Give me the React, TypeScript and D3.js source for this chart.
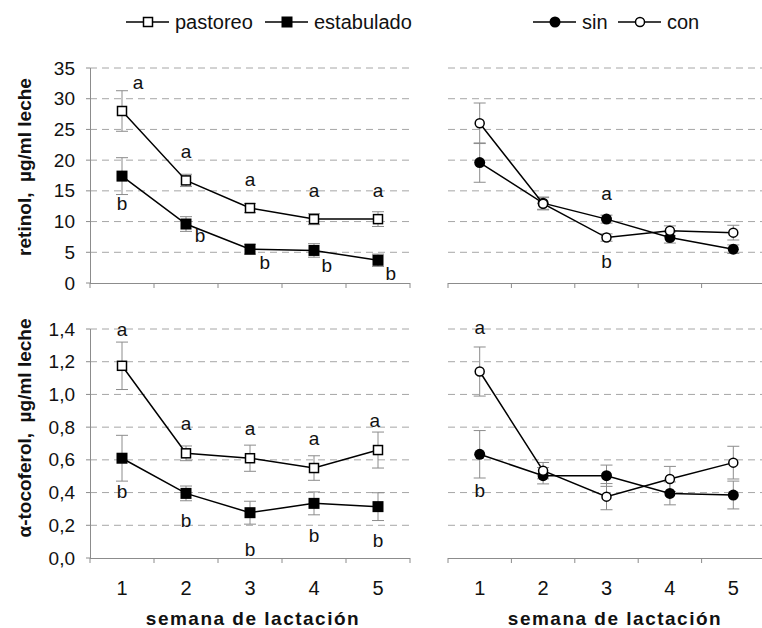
import React from "react";
import * as d3 from "d3";

const weeks = [1, 2, 3, 4, 5];

const retinolPastoreo = [28.0, 16.7, 12.2, 10.4, 10.4];
const retinolPastoreoErr = [3.3, 1.0, 0.75, 0.9, 1.2];
const retinolEstabulado = [17.4, 9.6, 5.5, 5.3, 3.7];
const retinolEstabuladoErr = [3.0, 1.2, 0.8, 1.1, 1.0];
const retinolSin = [19.6, 13.0, 10.4, 7.4, 5.5];
const retinolSinErr = [3.2, 1.0, 0.65, 0.9, 0.7];
const retinolCon = [26.0, 12.9, 7.4, 8.5, 8.2];
const retinolConErr = [3.3, 1.0, 0.6, 0.8, 1.2];

const tocoPastoreo = [1.175, 0.64, 0.61, 0.55, 0.66];
const tocoPastoreoErr = [0.145, 0.045, 0.08, 0.075, 0.11];
const tocoEstabulado = [0.61, 0.395, 0.277, 0.334, 0.314];
const tocoEstabuladoErr = [0.14, 0.045, 0.07, 0.07, 0.085];
const tocoSin = [0.634, 0.503, 0.503, 0.395, 0.385];
const tocoSinErr = [0.145, 0.05, 0.065, 0.07, 0.085];
const tocoCon = [1.14, 0.534, 0.375, 0.483, 0.583];
const tocoConErr = [0.15, 0.05, 0.08, 0.077, 0.1];

const retinolTicks = [0, 5, 10, 15, 20, 25, 30, 35];
const tocoTicks = [0, 0.2, 0.4, 0.6, 0.8, 1.0, 1.2, 1.4];

// annotation letters: [text, week position, value]
const retinolLeftLetters: [string, number, number][] = [
  ["a", 1.25, 32.6], ["a", 2, 21.4], ["a", 3, 16.8], ["a", 4, 15.0], ["a", 5, 15.0],
  ["b", 1, 12.9], ["b", 2.22, 7.8], ["b", 3.23, 3.4], ["b", 4.2, 2.9], ["b", 5.2, 1.5],
];
const retinolRightLetters: [string, number, number][] = [
  ["a", 3, 14.6], ["b", 3, 3.5],
];
const tocoLeftLetters: [string, number, number][] = [
  ["a", 1, 1.398], ["a", 2, 0.82], ["a", 3, 0.789], ["a", 4, 0.728], ["a", 4.95, 0.84],
  ["b", 1, 0.405], ["b", 2, 0.23], ["b", 3, 0.055], ["b", 4, 0.14], ["b", 5, 0.11],
];
const tocoRightLetters: [string, number, number][] = [
  ["a", 1, 1.41], ["b", 1, 0.41],
];

const FONT = "'Liberation Sans', Arial, sans-serif";
const GRID = "#a6a6a6";
const AXIS = "#8c8c8c";
const ERR = "#8c8c8c";

type Series = { values: number[]; errs: number[]; marker: "sqOpen" | "sqFill" | "cFill" | "cOpen" };

function Marker({ kind, x, y }: { kind: string; x: number; y: number }) {
  if (kind === "sqOpen")
    return <rect x={x - 4.5} y={y - 4.5} width={9} height={9} fill="#fff" stroke="#000" strokeWidth={1.5} />;
  if (kind === "sqFill")
    return <rect x={x - 5.5} y={y - 5.5} width={11} height={11} fill="#000" />;
  if (kind === "cFill") return <circle cx={x} cy={y} r={5.5} fill="#000" />;
  return <circle cx={x} cy={y} r={4.5} fill="#fff" stroke="#000" strokeWidth={1.5} />;
}

function Panel({
  x0, x1, y, ticks, showYAxis, fmt, series, letters, showXLabels,
}: {
  x0: number; x1: number; y: d3.ScaleLinear<number, number>; ticks: number[]; showYAxis: boolean;
  fmt: (v: number) => string; series: Series[]; letters: [string, number, number][]; showXLabels: boolean;
}) {
  const x = d3.scaleLinear().domain([0.5, 5.5]).range([x0, x1]);
  const bounds = [0.5, 1.5, 2.5, 3.5, 4.5, 5.5];
  const [yb] = y.range();
  const line = d3.line<number>().x((_, i) => x(weeks[i])).y((v) => y(v));
  return (
    <g>
      {ticks.filter((t) => t > 0).map((t) => (
        <line key={"g" + t} x1={x0} x2={x1} y1={y(t)} y2={y(t)} stroke={GRID} strokeWidth={1} strokeDasharray="7,5" />
      ))}
      {showYAxis && (
        <g>
          <line x1={x0 + 0.5} x2={x0 + 0.5} y1={y(ticks[ticks.length - 1])} y2={yb} stroke={AXIS} strokeWidth={1} />
          {ticks.map((t) => (
            <g key={"yt" + t}>
              <line x1={x0 - 4} x2={x0} y1={y(t)} y2={y(t)} stroke={AXIS} />
              <text x={x0 - 15} y={y(t)} textAnchor="end" dominantBaseline="central" fontFamily={FONT} fontSize={19} fill="#111">
                {fmt(t)}
              </text>
            </g>
          ))}
        </g>
      )}
      <line x1={x0} x2={x1} y1={yb + 0.5} y2={yb + 0.5} stroke={AXIS} strokeWidth={1} />
      {bounds.map((b) => (
        <line key={"xt" + b} x1={x(b)} x2={x(b)} y1={yb} y2={yb + 5} stroke={AXIS} />
      ))}
      {showXLabels &&
        weeks.map((w) => (
          <text key={"xl" + w} x={x(w)} y={yb + 30} textAnchor="middle" dominantBaseline="central" fontFamily={FONT} fontSize={20} fill="#111">
            {w}
          </text>
        ))}
      {series.map((s, si) => (
        <g key={"e" + si}>
          {s.values.map((v, i) => (
            <g key={i}>
              <line x1={x(weeks[i])} x2={x(weeks[i])} y1={y(v - s.errs[i])} y2={y(v + s.errs[i])} stroke={ERR} strokeWidth={1} />
              <line x1={x(weeks[i]) - 6} x2={x(weeks[i]) + 6} y1={y(v - s.errs[i])} y2={y(v - s.errs[i])} stroke={ERR} strokeWidth={1} />
              <line x1={x(weeks[i]) - 6} x2={x(weeks[i]) + 6} y1={y(v + s.errs[i])} y2={y(v + s.errs[i])} stroke={ERR} strokeWidth={1} />
            </g>
          ))}
        </g>
      ))}
      {series.map((s, si) => (
        <path key={"l" + si} d={line(s.values) || ""} fill="none" stroke="#000" strokeWidth={1.5} />
      ))}
      {series.map((s, si) => (
        <g key={"m" + si}>
          {s.values.map((v, i) => (
            <Marker key={i} kind={s.marker} x={x(weeks[i])} y={y(v)} />
          ))}
        </g>
      ))}
      {letters.map(([t, w, v], i) => (
        <text key={"lt" + i} x={x(w)} y={y(v)} textAnchor="middle" dominantBaseline="central" fontFamily={FONT} fontSize={19} fill="#111">
          {t}
        </text>
      ))}
    </g>
  );
}

function LegendItem({ x, y, kind, label }: { x: number; y: number; kind: string; label: string }) {
  return (
    <g>
      <line x1={x} x2={x + 43} y1={y} y2={y} stroke="#000" strokeWidth={1.5} />
      <Marker kind={kind} x={x + 22} y={y} />
      <text x={x + 49} y={y} dominantBaseline="central" fontFamily={FONT} fontSize={20} fill="#111">
        {label}
      </text>
    </g>
  );
}

export default function App() {
  const yTop = d3.scaleLinear().domain([0, 35]).range([283, 68]);
  const yBot = d3.scaleLinear().domain([0, 1.4]).range([558, 329]);
  const fmtInt = (v: number) => d3.format("d")(v);
  const fmtDec = (v: number) => d3.format(".1f")(v).replace(".", ",");
  const L0 = 90, L1 = 410, R0 = 448, R1 = 765;
  return (
    <div style={{ position: "absolute", left: 0, top: 0 }}>
      <svg width={762} height={628} style={{ display: "block", background: "#fff" }}>
        <LegendItem x={126} y={22} kind="sqOpen" label="pastoreo" />
        <LegendItem x={265} y={22} kind="sqFill" label="estabulado" />
        <LegendItem x={533} y={22} kind="cFill" label="sin" />
        <LegendItem x={618} y={22} kind="cOpen" label="con" />

        <Panel x0={L0} x1={L1} y={yTop} ticks={retinolTicks} showYAxis fmt={fmtInt}
          series={[
            { values: retinolPastoreo, errs: retinolPastoreoErr, marker: "sqOpen" },
            { values: retinolEstabulado, errs: retinolEstabuladoErr, marker: "sqFill" },
          ]}
          letters={retinolLeftLetters} showXLabels={false} />
        <Panel x0={R0} x1={R1} y={yTop} ticks={retinolTicks} showYAxis={false} fmt={fmtInt}
          series={[
            { values: retinolSin, errs: retinolSinErr, marker: "cFill" },
            { values: retinolCon, errs: retinolConErr, marker: "cOpen" },
          ]}
          letters={retinolRightLetters} showXLabels={false} />
        <Panel x0={L0} x1={L1} y={yBot} ticks={tocoTicks} showYAxis fmt={fmtDec}
          series={[
            { values: tocoPastoreo, errs: tocoPastoreoErr, marker: "sqOpen" },
            { values: tocoEstabulado, errs: tocoEstabuladoErr, marker: "sqFill" },
          ]}
          letters={tocoLeftLetters} showXLabels />
        <Panel x0={R0} x1={R1} y={yBot} ticks={tocoTicks} showYAxis={false} fmt={fmtDec}
          series={[
            { values: tocoSin, errs: tocoSinErr, marker: "cFill" },
            { values: tocoCon, errs: tocoConErr, marker: "cOpen" },
          ]}
          letters={tocoRightLetters} showXLabels />

        <text transform="translate(24,167) rotate(-90)" textAnchor="middle" dominantBaseline="central"
          fontFamily={FONT} fontWeight="bold" fontSize={19} fill="#111" style={{ whiteSpace: "pre" }}>
          {"retinol,  µg/ml leche"}
        </text>
        <text transform="translate(24,428) rotate(-90)" textAnchor="middle" dominantBaseline="central"
          fontFamily={FONT} fontWeight="bold" fontSize={19} fill="#111" style={{ whiteSpace: "pre" }}>
          {"α-tocoferol,  µg/ml leche"}
        </text>
        <text x={253} y={618} textAnchor="middle" dominantBaseline="central" fontFamily={FONT}
          fontWeight="bold" fontSize={19} letterSpacing={1.5} fill="#111">
          semana de lactación
        </text>
        <text x={615} y={618} textAnchor="middle" dominantBaseline="central" fontFamily={FONT}
          fontWeight="bold" fontSize={19} letterSpacing={1.5} fill="#111">
          semana de lactación
        </text>
      </svg>
    </div>
  );
}
